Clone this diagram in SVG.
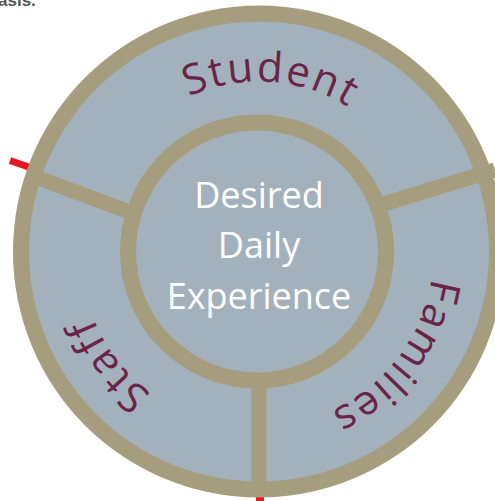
<svg xmlns="http://www.w3.org/2000/svg" width="495" height="501" viewBox="0 0 495 501">
<defs>
<style>
.tan{fill:#a59d7d}
.blue{fill:#a3b1bc}
.div{stroke:#a59d7d;stroke-width:15;fill:none}
.red{stroke:#e3171d;stroke-width:7;fill:none}
.lbl{font-family:"Open Sans","Noto Sans",sans-serif;font-size:42px;fill:#6a2447;letter-spacing:2px}
.ctr{font-family:"Open Sans","Noto Sans",sans-serif;font-size:36px;fill:#ffffff;text-anchor:middle}
</style>
<path id="arcStudent" d="M117.6,156.4 A170,170 0 0 1 411.3,177.0"/>
<path id="arcFamilies" d="M420.1,184.2 A175,175 0 0 1 236.0,425.0"/>
<path id="arcStaff" d="M280.2,428.2 A178,178 0 0 1 94.6,182.0"/>
</defs>
<rect width="495" height="501" fill="#ffffff"/>
<text x="-2" y="6" font-family="Liberation Sans, Arial, sans-serif" font-size="17" font-weight="bold" fill="#555555">asis.</text>
<g id="red-marks">
<line class="red" x1="10" y1="160.5" x2="40" y2="171"/>
<line class="red" x1="470" y1="181" x2="500" y2="172"/>
<line class="red" x1="260" y1="480" x2="260" y2="506" style="stroke-width:8"/>
</g>
<g id="outer-ring">
<circle class="tan" cx="259" cy="251.5" r="246"/>
<circle class="blue" cx="259" cy="251.5" r="230"/>
</g>
<g id="connectors">
<line class="div" x1="30" y1="175" x2="135" y2="214"/>
<line class="div" x1="380" y1="205" x2="495" y2="170"/>
<line class="div" x1="259" y1="370" x2="259" y2="490"/>
</g>
<g id="center">
<circle cx="257" cy="251.5" r="129" fill="#a3b1bc" stroke="#a59d7d" stroke-width="16"/>
<text class="ctr" x="259" y="208">Desired</text>
<text class="ctr" x="259" y="258">Daily</text>
<text class="ctr" x="259" y="309">Experience</text>
</g>
<g id="student">
<text class="lbl"><textPath href="#arcStudent" startOffset="50%" text-anchor="middle">Student</textPath></text>
</g>
<g id="families">
<text class="lbl"><textPath href="#arcFamilies" startOffset="50%" text-anchor="middle">Families</textPath></text>
</g>
<g id="staff">
<text class="lbl"><textPath href="#arcStaff" startOffset="50%" text-anchor="middle">Staff</textPath></text>
</g>
</svg>
